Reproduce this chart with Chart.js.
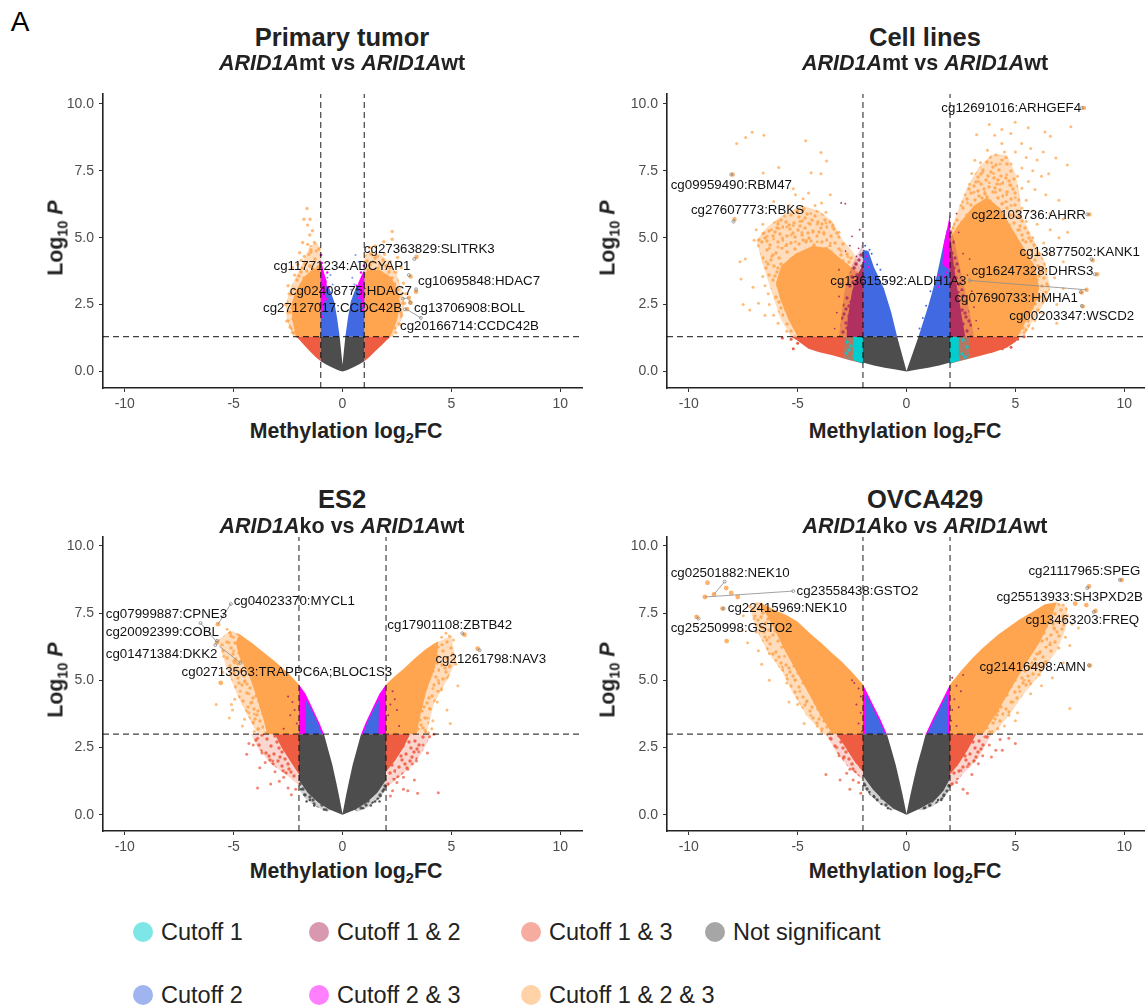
<!DOCTYPE html>
<html>
<head>
<meta charset="utf-8">
<title>Volcano plots</title>
<script src="https://cdn.jsdelivr.net/npm/chart.js@4"></script>
<style>
    html, body { margin: 0; padding: 0; background: #fff; }
    body { position: relative; width: 1145px; height: 1008px; overflow: hidden; font-family: "Liberation Sans", Arial, sans-serif; color: #222; }
    canvas { position: absolute; }
    .txt { position: absolute; white-space: nowrap; transform: translate(-50%, -50%); }
    .title { font-size: 25.5px; font-weight: bold; }
    .sub { font-size: 21.5px; font-weight: bold; }
    .axt { font-size: 21.3px; font-weight: bold; }
    .axt sub { font-size: 14.5px; line-height: 0; }
    .rot { transform: translate(-50%, -50%) rotate(-90deg); }
    .key { position: absolute; font-size: 23.5px; color: #222; white-space: nowrap; transform: translateY(-50%); }
    .dot { position: absolute; width: 20px; height: 20px; border-radius: 50%; transform: translate(-50%, -50%); }
</style>
</head>
<body>
<div class="txt" style="left:20px;top:22px;font-size:28px;color:#000">A</div>

<canvas id="tumor" style="left:0;top:71px"></canvas>
<canvas id="cells" style="left:564px;top:71px"></canvas>
<canvas id="es2" style="left:0;top:514px"></canvas>
<canvas id="ovca" style="left:564px;top:514px"></canvas>

<div class="txt title" style="left:342px;top:37px">Primary tumor</div>
<div class="txt sub" style="left:342px;top:63px"><i>ARID1A</i>mt vs <i>ARID1A</i>wt</div>
<div class="txt title" style="left:925px;top:37px">Cell lines</div>
<div class="txt sub" style="left:925px;top:63px"><i>ARID1A</i>mt vs <i>ARID1A</i>wt</div>
<div class="txt title" style="left:342px;top:499px">ES2</div>
<div class="txt sub" style="left:342px;top:526px"><i>ARID1A</i>ko vs <i>ARID1A</i>wt</div>
<div class="txt title" style="left:925px;top:499px">OVCA429</div>
<div class="txt sub" style="left:925px;top:526px"><i>ARID1A</i>ko vs <i>ARID1A</i>wt</div>

<div class="txt axt" style="left:346px;top:431px">Methylation log<sub>2</sub>FC</div>
<div class="txt axt" style="left:905px;top:431px">Methylation log<sub>2</sub>FC</div>
<div class="txt axt" style="left:346px;top:871px">Methylation log<sub>2</sub>FC</div>
<div class="txt axt" style="left:905px;top:871px">Methylation log<sub>2</sub>FC</div>
<div class="txt axt rot" style="left:56px;top:238px">Log<sub>10</sub> <i>P</i></div>
<div class="txt axt rot" style="left:608px;top:238px">Log<sub>10</sub> <i>P</i></div>
<div class="txt axt rot" style="left:56px;top:680px">Log<sub>10</sub> <i>P</i></div>
<div class="txt axt rot" style="left:608px;top:680px">Log<sub>10</sub> <i>P</i></div>

<div id="legend"></div>

<script>
const xTicks = [-10, -5, 0, 5, 10];
const yTicks = [0, 2.5, 5, 7.5, 10];

const legendNames = ['Cutoff 1', 'Cutoff 1 & 2', 'Cutoff 1 & 3', 'Not significant', 'Cutoff 2', 'Cutoff 2 & 3', 'Cutoff 1 & 2 & 3'];
const legendColors = ['#7de6e6', '#d898b0', '#f6ada0', '#a6a6a6', '#a0b4f0', '#ff80ff', '#ffd2a7'];

// Primary tumor
const tumorGrey = [[-1,0.38],[-0.75,0.26],[-0.5,0.16],[-0.2,0.04],[0,0],[0.2,0.04],[0.5,0.16],[0.75,0.26],[1,0.38],[1,1.3],[0.13,1.3],[0,0.25],[-0.13,1.3],[-1,1.3]];
const tumorBlue = [[-1,1.3],[-0.13,1.3],[-0.25,2],[-0.38,2.6],[-0.6,3.1],[-0.9,3.4],[-1,3.6]];
const tumorBlue2 = [[1,1.3],[0.13,1.3],[0.25,2],[0.38,2.6],[0.6,3.1],[0.9,3.4],[1,3.5]];
const tumorMagenta = [[-1,2.1],[-0.88,2.3],[-0.76,3],[-0.72,3.35],[-0.85,3.7],[-1,4.2]];
const tumorMagenta2 = [[1,2.2],[0.88,2.5],[0.76,3],[0.72,3.3],[0.85,3.55],[1,3.8]];
const tumorOrange = [[-1,1.3],[-2.14,1.3],[-2.3,1.9],[-2.35,2.5],[-2.15,3],[-1.8,3.5],[-1.4,3.8],[-1,3.9]];
const tumorOrange2 = [[1,1.3],[2.2,1.3],[2.5,1.9],[2.65,2.5],[2.55,3],[2.25,3.5],[1.7,3.8],[1.3,3.8],[1,3.7]];
const tumorHalo = [[-1,1.3],[-2.25,1.3],[-2.55,1.9],[-2.6,2.5],[-2.4,3.1],[-2.1,3.6],[-1.8,4.1],[-1.5,4.7],[-1.2,4.8],[-1,4.6]];
const tumorHalo2 = [[1,1.3],[2.3,1.3],[2.7,1.9],[2.85,2.5],[2.75,3],[2.5,3.6],[2.15,4.1],[1.7,4.4],[1.2,4.5],[1,4.3]];
const tumorRed = [[-1,0.38],[-1.25,0.55],[-1.5,0.75],[-1.8,1.02],[-2,1.2],[-2.15,1.3],[-1,1.3]];
const tumorRed2 = [[1,0.38],[1.25,0.55],[1.5,0.75],[1.8,0.98],[2,1.15],[2.2,1.3],[1,1.3]];
const tumorSpecks = [[-1.63,6.09],[-1.77,5.69],[-1.49,5.69],[-1.6,5.47],[-1.38,5.26],[-1.5,5.1],[-1.83,4.82],[-1.29,4.82],[-1.6,4.75],[-1.2,4.5],[-1.45,4.55],[-1.97,4.44],[-1.55,4.38],[-1.75,4.3],[-1.9,4.15],[-2.05,4],[-2.3,3.88],[-2.2,3.6],[-2.5,3.2],[-2.45,2.9],[-2.6,2.5],[-2.5,2.2],[-2.56,1.88],[-2.4,1.65],[-2.3,1.45],[2.28,5.23],[2.28,4.94],[1.9,4.85],[1.5,4.69],[1.25,4.62],[1.93,4.38],[1.6,4.3],[2.53,4.26],[2.2,4.1],[2.7,3.88],[2.45,3.7],[2.8,3.3],[2.9,2.9],[2.85,2.55],[2.72,2.1],[2.65,1.75],[2.45,1.45]];
const tumorBlueSpecks = [[0.6,4.35],[0.75,4.1],[-0.55,3.6],[-0.7,3.5],[-0.45,3.25],[0.45,3.5],[0.55,3.25],[0.4,3.05]];
const tumorMagentaSpecks = [[-0.98,4.35],[-0.95,4.05],[-0.7,3.7],[-0.65,3.15],[-0.75,2.7],[0.98,3.95],[0.85,3.7],[0.65,3.2],[0.72,2.75],[0.9,2.3],[-0.92,2.05]];
const tumorHits = [[3.4,4.28],[3.13,3.55],[3.38,2.98],[3.12,2.57],[2.97,2.33],[3.05,2.75]];

// Cell lines
const cellGrey = [[-2,0.33],[-1.5,0.22],[-1,0.14],[-0.5,0.07],[0,0],[0.5,0.07],[1,0.14],[1.5,0.22],[2,0.33],[2,1.3],[0.55,1.3],[0,0.02],[-0.43,1.3],[-2,1.3]];
const cellBlue = [[-2,1.3],[-0.43,1.3],[-0.7,2.2],[-1.04,3.1],[-1.5,3.9],[-1.75,4.5],[-2,4.55]];
const cellBlue2 = [[0.55,1.3],[2,1.3],[2,5.4],[1.85,5.3],[1.7,4.75],[1.4,3.6],[1.02,2.5]];
const cellMagenta = [[1.95,3.8],[1.65,4.0],[1.72,4.8],[1.87,5.35],[2,5.9],[2,4.8]];
const cellMaroon = [[-2,1.3],[-2.75,1.3],[-2.7,2],[-2.5,3],[-2.25,3.6],[-2,4]];
const cellMaroon2 = [[2,1.3],[2.7,1.3],[2.55,2],[2.35,3],[2.2,3.8],[2.05,4.8],[2,5.1]];
const cellMaroonHalo = [[-2,1.3],[-3.1,1.3],[-3,2],[-2.85,3],[-2.5,4],[-2.1,4.6],[-2,4.9]];
const cellMaroonHalo2 = [[2,1.3],[3.1,1.3],[2.95,2],[2.7,3],[2.45,3.9],[2.2,4.9],[2,5.4]];
const cellOrange = [[-2,1.3],[-5,1.3],[-5.4,1.9],[-5.8,2.7],[-6,3.3],[-5.75,3.95],[-5.1,4.4],[-4.3,4.7],[-3.6,4.6],[-3,4.2],[-2.4,3.8],[-2,3.6]];
const cellOrange2 = [[2,1.3],[5.1,1.3],[5.5,1.9],[5.9,2.5],[6.1,3.1],[5.9,3.9],[5.4,4.6],[4.8,5.4],[4.3,6.1],[3.7,6.5],[3.1,6.2],[2.4,5.5],[2,5]];
const cellHalo = [[-2,3.6],[-2.4,4.4],[-3,5],[-3.4,5.6],[-4,6],[-4.8,6.2],[-5.6,5.9],[-6.4,5.4],[-6.9,4.9],[-6.6,4],[-6.2,3],[-5.8,2],[-5.3,1.3],[-2,1.3]];
const cellHalo2 = [[2,1.3],[5.4,1.3],[5.8,1.9],[6.3,2.5],[6.6,3.1],[6.4,4],[5.8,5],[5.3,5.8],[5.2,6.6],[5,7.4],[4.6,8.1],[3.9,8.1],[3.3,7.6],[2.8,6.9],[2.4,6.1],[2,5.2]];
const cellRed = [[-2,0.3],[-2.6,0.42],[-3.4,0.6],[-4,0.72],[-4.5,0.85],[-5,1.15],[-5.3,1.3],[-2,1.3]];
const cellRed2 = [[2,0.3],[3,0.5],[4,0.72],[4.6,0.88],[5,1.1],[5.2,1.3],[2,1.3]];
const cellCyan = [[-2,0.3],[-2.45,0.42],[-2.45,1.3],[-2,1.3]];
const cellCyan2 = [[2,0.3],[2.4,0.4],[2.4,1.3],[2,1.3]];
const cellCyanHalo = [[-2,0.3],[-2.85,0.5],[-2.85,1.3],[-2,1.3]];
const cellCyanHalo2 = [[2,0.3],[2.9,0.48],[2.9,1.3],[2,1.3]];
const cellSpecks = [[-7.8,8.52],[-7.39,8.74],[-7.09,8.94],[-6.55,8.83],[-4.63,8.62],[-3.93,8.18],[-3.67,7.87],[-5.87,7.62],[-6.58,7.42],[-4.38,7.43],[-3.93,7.39],[-5.2,6.83],[-4.5,6.67],[-5.1,6.6],[-4.75,6.45],[-6.1,6.35],[-3.5,6.6],[-3.9,6.3],[-4.2,6.2],[-4.7,6.1],[-5.4,6.2],[-5,5.95],[-4.4,5.9],[-3.7,5.95],[-5.6,5.8],[-5.9,5.6],[-6.6,5.5],[-6.9,5.3],[-6.6,5.15],[-7,4.9],[-6.8,4.7],[-6.4,5.05],[-6.2,5.3],[-5.85,5.35],[-5.5,5.4],[-5.2,5.45],[-4.9,5.6],[-4.5,5.55],[-4.1,5.5],[-3.7,5.55],[-3.4,5.4],[-3.1,5.2],[-3.8,5.2],[-4.3,5.2],[-4.8,5.2],[-5.3,5.1],[-5.7,5],[-6.1,4.95],[-6.3,4.6],[-5.9,4.65],[-5.5,4.75],[-5.1,4.85],[-4.6,4.9],[-4.1,4.85],[-3.5,4.8],[-3,4.5],[-2.7,4.3],[-6.2,4.3],[-6.45,4.1],[-7.4,4.2],[-7.65,4.1],[-7.6,3.45],[-7.05,3.15],[-6.6,3.55],[-6.5,3.2],[-6.35,2.9],[-6.3,2.5],[-7.5,2.5],[-7.2,2.3],[-6.8,2.55],[-6.5,2.1],[-6.1,2.1],[-5.9,1.8],[-5.5,1.5],[3.22,8.85],[3.8,9.23],[4.38,9.04],[4.99,9.31],[5.59,9.11],[6.36,8.95],[6.61,8.79],[7.55,9.15],[4.05,8.83],[4.79,8.89],[5.29,8.52],[4.38,8.52],[5.7,8.33],[6.28,8.2],[3.72,8.27],[3.14,7.89],[6.86,7.98],[7.39,7.72],[6.53,7.39],[4.1,8.1],[4.5,8.2],[5,8.2],[5.5,8],[6,7.9],[3.4,7.8],[3.9,7.8],[4.3,7.75],[4.8,7.75],[5.3,7.6],[5.8,7.5],[6.2,7.3],[3,7.4],[3.5,7.45],[4,7.4],[4.6,7.35],[5.1,7.3],[5.6,7.1],[2.9,7],[3.3,7.1],[3.8,7.05],[4.3,7],[4.8,6.95],[5.3,6.85],[5.9,6.8],[2.7,6.6],[3.1,6.7],[3.6,6.7],[4.1,6.7],[4.6,6.6],[5,6.5],[5.5,6.4],[6.4,6.6],[7,6.4],[2.5,6.2],[2.8,6.3],[4.4,6.3],[4.8,6.2],[5.3,6.1],[5.8,6],[6.6,5.9],[7.2,5.7],[5,5.8],[5.5,5.6],[6,5.5],[6.6,5.3],[7.4,5.2],[7,5],[5.2,5.3],[5.8,5],[6.3,4.8],[6.1,4.4],[6.6,4.4],[7.2,4.1],[6.4,3.8],[6.8,3.5],[6.5,3.2],[7.2,3.1],[6.4,2.7],[6.9,2.5],[6.2,2.2],[6.9,1.8],[5.9,1.9],[5.8,1.6],[5.4,1.45]];
const cellRedSpecks = [[-5.2,0.85],[-5.3,1.2],[-5.7,1.25],[-5,1.05],[5.1,1.2],[4.8,0.9],[4.4,0.85],[5.4,1.3]];
const cellMaroonSpecks = [[-2.81,6.27],[-3,6.3],[-2.15,5.3],[-2.2,4.6],[-2.6,4.7],[-2.5,5.05],[-2.8,4.5],[-2.3,4.3],[-3.1,3.8],[-3.05,3.3],[-3.1,2.8],[-3.2,2.2],[3,3],[3.1,2.4],[3.2,1.9],[2.8,3.6],[2.6,4.4],[2.4,5.2],[2.3,5.9],[2.9,4.2],[-3.3,1.6],[3.3,1.6]];
const cellBlueSpecks = [[-1.7,4.55],[-1.9,4.7],[-1.6,4.4],[-1.85,4.3],[-1.35,4],[-1.2,3.8],[-0.95,3.35],[1.1,3],[0.9,2.45],[0.75,2],[0.6,1.6]];
const cellMagentaSpecks = [[-1.85,4.3],[-1.95,4.1],[-1.75,3.9],[1.5,3.6],[1.6,3.4],[1.45,3.15],[1.85,3.7],[1.75,3.55]];
const cellHits = [[8.15,9.85],[-7.98,7.36],[-7.9,5.69],[8.4,5.87],[8.55,4.15],[8.76,3.63],[8.27,3.05],[8.05,2.95],[8.1,2.43]];

// ES2
const esGrey = [[-2,1.3],[-1.6,0.82],[-1.1,0.45],[-0.6,0.2],[0,0],[0.6,0.2],[1.1,0.45],[1.6,0.82],[2,1.3],[2,3],[0.85,3],[0.65,2.4],[0.47,1.87],[0.3,1.25],[0.17,0.75],[0,0.03],[-0.17,0.75],[-0.3,1.25],[-0.47,1.87],[-0.65,2.4],[-0.85,3],[-2,3]];
const esGreyHalo = [[-2,0.95],[-1.7,0.6],[-1.2,0.3],[-0.7,0.12],[-0.3,0.3],[-2,1.5]];
const esGreyHalo2 = [[2,0.95],[1.7,0.6],[1.2,0.3],[0.7,0.12],[0.3,0.3],[2,1.5]];
const esMagenta = [[-2,3],[-0.85,3],[-1.05,3.4],[-1.4,4],[-1.7,4.5],[-2,4.85]];
const esMagenta2 = [[2,3],[0.85,3],[1.05,3.4],[1.4,4],[1.7,4.5],[2,4.85]];
const esBlue = [[-1.7,3],[-0.95,3],[-1.12,3.4],[-1.45,3.95],[-1.68,4.28]];
const esBlue2 = [[1.65,3],[0.95,3],[1.12,3.4],[1.45,3.95],[1.68,4.28]];
const esOrange = [[-2,3],[-3.45,3],[-3.65,3.6],[-3.95,4.4],[-4.3,5.2],[-4.75,5.9],[-4.9,6.4],[-4.74,6.72],[-4.14,6.38],[-3.6,6.03],[-3.12,5.72],[-2.5,5.27],[-2,4.85]];
const esOrange2 = [[2,3],[3.4,3],[3.6,3.8],[3.85,4.6],[4.2,5.4],[4.35,5.9],[4.4,6.45],[4.18,6.35],[3.8,6.15],[3.3,5.8],[2.8,5.42],[2.4,5.15],[2,4.85]];
const esHalo = [[-2,3],[-3.9,3],[-4.3,3.6],[-4.8,4.4],[-5.2,5.2],[-5.5,5.9],[-5.7,6.5],[-5.15,6.85],[-4.74,6.72],[-2,4.85]];
const esHalo2 = [[2,3],[3.85,3],[4.18,4.1],[4.86,5.1],[5.2,5.7],[5,6.66],[4.18,6.35],[2,4.85]];
const esRed = [[-2,1.5],[-2.4,2],[-2.8,2.5],[-3.1,3],[-2,3]];
const esRed2 = [[2,1.6],[2.4,2],[2.8,2.5],[3.1,3],[2,3]];
const esRedHalo = [[-2,1.1],[-2.6,1.5],[-3.3,1.9],[-3.9,2.5],[-4.2,3],[-2,3]];
const esRedHalo2 = [[2,1],[2.6,1.4],[3.3,1.9],[3.7,2.4],[4.1,3],[2,3]];
const esSpecks = [[-5.15,6.75],[-5.3,6.9],[-5,6.6],[-5.2,6.4],[-5,6.1],[-4.9,5.8],[-4.75,5.3],[-4.5,4.95],[-4.3,4.5],[-4.15,4.2],[-4.05,3.75],[-3.85,3.2],[-4.7,4.6],[-4.95,4.3],[-5.1,4.1],[-5.05,3.9],[-4.5,3.55],[-4.3,3.8],[-4.1,3.45],[-4.6,3.3],[-4.05,3.1],[-5.8,4.1],[-5.2,3.6],[-5.5,5.3],[-5.45,5.9],[4.55,6.6],[4.75,6.75],[4.9,6.65],[5.1,6.5],[4.4,5.9],[4.6,5.6],[4.9,5.5],[5.2,5.6],[4.8,5.1],[5.3,4.8],[4.4,5],[4.55,4.65],[4.15,4.7],[4.35,4.2],[4,3.95],[3.9,3.6],[4.15,3.5],[3.8,3.15],[4.1,3.2],[4.8,3.9],[4.95,3.4],[3.95,3.05]];
const esRedSpecks = [[-4.4,2.25],[-4.1,2.6],[-3.9,2.85],[-4.3,2.65],[-3.7,2.3],[-3.8,1.75],[-3.55,1.95],[-3.9,1],[-3.1,1.6],[-3.3,1.15],[-3.2,2],[-2.7,1.4],[-2.5,1],[-2.35,0.75],[-2.15,0.95],[-2.9,1.25],[3.2,1.9],[3.5,2.35],[3.7,2.6],[4,2.9],[4.2,3],[3.4,2],[3,1.7],[2.8,1.4],[2.5,1.2],[2.3,0.9],[3,0.9],[3.45,0.8],[4.4,0.82],[2.8,0.95],[2.2,0.7],[3.3,1.3],[3.9,2.3]];
const esGreySpecks = [[-1.9,0.95],[-1.75,0.75],[-1.5,0.55],[-1.3,0.35],[-0.85,0.2],[1.9,0.95],[1.75,0.7],[1.5,0.5],[1.3,0.35],[0.95,0.25],[-1.65,0.5],[1.7,0.5]];
const esMaroonSpecks = [[-2.5,4.4],[-2.3,4.2],[-2.4,3.7],[-2.2,3.9],[-2.1,3.4],[-2.7,3.2],[2.3,4.6],[2.4,4.3],[2.2,4.1],[2.1,3.7],[2.5,3.9],[2.6,3.3]];
const esHits = [[-5.72,7.09],[-5.76,6.41],[-5.59,4.91],[-4.95,5.7],[5.6,6.7],[6.21,6.18]];

// OVCA429
const ovGrey = [[-2,1.45],[-1.55,0.95],[-1.07,0.54],[-0.58,0.22],[0,0],[0.58,0.22],[1.3,0.54],[1.7,0.9],[2,1.35],[2,3],[0.88,3],[0.7,2.45],[0.5,1.87],[0.32,1.25],[0.18,0.75],[0,0.03],[-0.18,0.75],[-0.32,1.25],[-0.5,1.87],[-0.7,2.45],[-0.9,3],[-2,3]];
const ovGreyHalo = [[-2,1.05],[-1.7,0.75],[-1.2,0.4],[-0.7,0.16],[-0.3,0.3],[-2,1.5]];
const ovGreyHalo2 = [[2,0.95],[1.7,0.6],[1.2,0.32],[0.7,0.16],[0.3,0.3],[2,1.5]];
const ovMagenta = [[-2,3],[-0.9,3],[-1.2,3.55],[-1.6,4.2],[-2,4.85]];
const ovMagenta2 = [[2,3],[0.88,3],[1.2,3.55],[1.6,4.2],[2,4.85]];
const ovBlue = [[-1.88,3],[-0.97,3],[-1.25,3.5],[-1.62,4.1],[-1.9,4.55]];
const ovBlue2 = [[1.88,3],[0.95,3],[1.25,3.5],[1.62,4.1],[1.9,4.55]];
const ovOrange = [[-2,3],[-3.4,3],[-3.95,3.7],[-4.55,4.6],[-5.1,5.4],[-5.65,6.2],[-6,6.8],[-6.4,7.4],[-6.8,7.9],[-6.5,7.8],[-6,7.6],[-5.5,7.42],[-5,7.18],[-4.4,6.72],[-3.9,6.38],[-3.4,6],[-3,5.72],[-2.5,5.3],[-2,4.85]];
const ovOrange2 = [[2,3],[3.5,3],[4.15,3.8],[4.95,4.9],[5.55,5.7],[6.1,6.4],[6.6,7.2],[6.9,7.9],[6.36,7.83],[5.8,7.55],[5.2,7.27],[4.2,6.7],[3.5,6.2],[3,5.8],[2.5,5.35],[2,4.85]];
const ovHalo = [[-2,3],[-3.8,3],[-4.6,3.7],[-5.2,4.5],[-5.7,5.3],[-6.4,6.1],[-6.9,6.9],[-7.2,7.7],[-6.8,7.9],[-2,4.85]];
const ovHalo2 = [[2,3],[4,3],[4.7,3.7],[5.4,4.5],[6.2,5.3],[6.9,6.1],[7.3,6.9],[7.4,7.7],[6.9,7.9],[2,4.85]];
const ovRed = [[-2,1.6],[-2.4,2],[-2.8,2.5],[-3.2,3],[-2,3]];
const ovRed2 = [[2,1.5],[2.4,1.9],[2.8,2.4],[3.2,3],[2,3]];
const ovRedHalo = [[-2,1.3],[-2.7,1.8],[-3.2,2.3],[-3.7,3],[-2,3]];
const ovRedHalo2 = [[2,1],[2.7,1.6],[3.3,2.1],[3.9,3],[2,3]];
const ovSpecks = [[-7.2,7.75],[-7.5,7.4],[-7,7.3],[-6.9,7.85],[-6.6,6.95],[-6.9,6.8],[-6.3,6.6],[-7.3,6.4],[-6.8,6.1],[-6.3,6],[-6.65,5.6],[-6,5.75],[-5.7,5.5],[-5.5,5.2],[-6.3,5],[-5.5,4.9],[-5.1,5],[-4.9,4.6],[-5.4,4.2],[-5,4.1],[-4.6,4.2],[-4.4,3.7],[-4.7,3.4],[-4.1,3.3],[-3.9,3.1],[-3.6,3.5],[-5.6,5.9],[-7.55,6.85],[6.2,6.7],[6.8,6.9],[7.3,6.6],[7.5,6.3],[7,6.2],[7.6,7.1],[7.9,6.95],[7.4,7.4],[7.2,7.8],[6.6,6.4],[6.1,6],[6.4,5.7],[7.2,5.65],[5.8,5.5],[6.1,5.2],[6.7,5.1],[6.2,4.8],[5.4,5],[5.2,4.6],[5.7,4.5],[4.9,4.2],[5.1,3.8],[4.7,3.7],[4.5,3.3],[4.2,3.2],[7.5,3.95],[3.95,3.1],[5,3.5]];
const ovRedSpecks = [[-3.5,2.85],[-3.2,2.5],[-3.1,2.2],[-2.9,2.1],[-2.6,1.7],[-2.75,1.55],[-2.2,1.2],[-3.7,1.5],[-2.6,0.95],[-2.1,0.8],[-3.05,1.3],[-2.45,1.3],[3.6,2.9],[3.8,2.6],[4.3,2.8],[5,2.65],[4.7,2.85],[4.4,2.4],[3.9,2.15],[3.5,2.2],[3.1,2],[2.8,1.8],[2.5,1.65],[2.3,1.2],[2.6,0.95],[2.8,0.8],[2.1,1.15],[3.3,1.9],[4.1,2.4],[3,1.5]];
const ovGreySpecks = [[-1.9,1.1],[-1.7,0.85],[-1.35,0.55],[-1.15,0.4],[-0.85,0.25],[1.95,1.1],[1.7,0.7],[1.45,0.55],[1.05,0.35],[0.8,0.25],[-1.5,0.7],[1.6,0.55]];
const ovMaroonSpecks = [[-2.4,4.9],[-2.2,4.7],[-2.5,5],[-2.1,4.4],[-2.3,4.1],[-2.1,3.8],[-2.2,3.4],[-2.05,3.1],[2.1,5.1],[2.3,4.8],[2.5,4.6],[2.2,4.3],[2.1,3.9],[2.4,4],[2.05,3.5],[2.3,3.3],[2.6,5.2]];
const ovHits = [[-9.14,8.63],[-8.28,8.43],[-8.84,8.2],[-9.26,8.1],[-8.05,8.25],[-7.75,8.1],[-8.45,7.67],[-9.64,7.36],[-8.26,6.46],[9.88,8.73],[8.38,8.49],[8.26,7.8],[7.75,7.85],[8.68,7.58],[8.42,5.55]];

// gene labels: name, text anchor, connector start, connector end
const tumorNames = ['cg27363829:SLITRK3','cg11771234:ADCYAP1','cg10695848:HDAC7','cg02408775:HDAC7','cg27127017:CCDC42B','cg13706908:BOLL','cg20166714:CCDC42B'];
const tumorAnchors = [[0.98,4.58],[-3.17,3.91],[3.47,3.35],[-2.42,3.01],[-3.65,2.34],[3.28,2.34],[2.64,1.7]];
const tumorTips = [[3.3,4.2],[3.05,3.6],[3.38,3.07],[2.78,2.72],[2.87,2.32],[3.12,2.57],[3.6,2]];
const tumorEnds = [[3.4,4.28],[3.13,3.55],[3.38,2.98],[3.05,2.75],[2.97,2.33],[3.05,2.7],[2.95,2.32]];

const cellNames = ['cg12691016:ARHGEF4','cg09959490:RBM47','cg27607773:RBKS','cg22103736:AHRR','cg13877502:KANK1','cg16247328:DHRS3','cg13615592:ALDH1A3','cg07690733:HMHA1','cg00203347:WSCD2'];
const cellAnchors = [[1.6,9.83],[-10.83,6.96],[-9.9,6.03],[2.98,5.83],[5.19,4.45],[2.98,3.74],[-3.5,3.38],[2.2,2.73],[4.72,2.06]];
const cellTips = [[8.05,9.85],[-8.05,7.36],[-7.95,5.6],[8.3,5.87],[8.5,4.2],[8.65,3.63],[2.9,3.4],[8,2.97],[8.05,2.45]];
const cellEnds = [[8.15,9.85],[-7.98,7.36],[-7.9,5.69],[8.4,5.87],[8.55,4.15],[8.76,3.63],[8.27,3.05],[8.05,2.95],[8.1,2.43]];

const esNames = ['cg04023370:MYCL1','cg07999887:CPNE3','cg20092399:COBL','cg01471384:DKK2','cg02713563:TRAPPC6A;BLOC1S3','cg17901108:ZBTB42','cg21261798:NAV3'];
const esAnchors = [[-5,7.93],[-10.87,7.44],[-10.87,6.77],[-10.87,5.98],[-7.39,5.31],[2.06,7.03],[4.27,5.79]];
const esTips = [[-5.13,7.84],[-6.52,7.13],[-5.76,6.47],[-5.84,6.31],[-4.69,5.65],[5.5,6.75],[6.3,6.12]];
const esEnds = [[-5.72,7.09],[-5.76,6.41],[-5.76,6.41],[-5.8,6.35],[-5.67,6.28],[5.6,6.7],[6.21,6.18]];

const ovNames = ['cg02501882:NEK10','cg23558438:GSTO2','cg22415969:NEK10','cg25250998:GSTO2','cg21117965:SPEG','cg25513933:SH3PXD2B','cg13463203:FREQ','cg21416498:AMN'];
const ovAnchors = [[-10.83,8.97],[-5.05,8.3],[-8.21,7.66],[-10.83,6.95],[5.6,9.05],[4.13,8.07],[5.46,7.22],[3.35,5.5]];
const ovTips = [[-8.35,8.67],[-5.2,8.32],[-8.4,7.67],[-9.55,7.3],[9.8,8.74],[8.3,8.43],[8.6,7.54],[8.38,5.56]];
const ovEnds = [[-8.84,8.2],[-9.26,8.1],[-8.45,7.67],[-9.64,7.36],[9.88,8.73],[8.38,8.49],[8.68,7.58],[8.42,5.55]];

const orange = '#ffa54f', blue = '#4169e1', red = '#ee5c42', cyan = '#00cdcd', magenta = '#ff00ff', maroon = '#b03060', grey = '#4d4d4d';
const orangeSpeck = 'rgba(255,165,79,0.75)', orangeHit = 'rgba(255,165,79,0.85)', redSpeck = 'rgba(238,92,66,0.75)';
const toXY = pts => pts.map(p => ({ x: p[0], y: p[1] }));

// dot layout of the stippled fill, so the edge of a cloud reads as loose points
const stipple = [[3,5],[11,2],[19,7],[27,3],[36,6],[42,1],[7,12],[15,14],[23,11],[31,13],[39,11],[2,19],[10,20],[18,18],[26,21],[34,19],[41,17],[6,26],[14,27],[21,25],[29,28],[37,25],[43,24],[3,33],[11,34],[18,32],[25,35],[33,33],[40,31],[7,40],[15,41],[22,39],[30,42],[38,39],[43,37],[13,8],[33,8],[21,15],[5,22],[38,21],[16,23],[28,17],[9,30],[24,30],[35,29],[19,37],[2,43],[27,38]];

function stippleFill(r, g, b, base) {
    const tile = document.createElement('canvas');
    tile.width = 44;
    tile.height = 44;
    const c = tile.getContext('2d');
    c.fillStyle = `rgba(${r},${g},${b},${base})`;
    c.fillRect(0, 0, 44, 44);
    c.fillStyle = `rgba(${r},${g},${b},0.9)`;
    stipple.forEach(d => {
        c.beginPath();
        c.arc(d[0], d[1], 1.7, 0, Math.PI * 2);
        c.fill();
    });
    return c.createPattern(tile, 'repeat');
}

const orangeHalo = stippleFill(255, 165, 79, 0.38), redHalo = stippleFill(238, 92, 66, 0.25), cyanHalo = stippleFill(0, 205, 205, 0.25), maroonHalo = stippleFill(176, 48, 96, 0.25), greyHalo = stippleFill(77, 77, 77, 0.25);

// closed filled region
function region(pts, color) {
    return { data: toXY(pts), showLine: true, fill: 'shape', backgroundColor: color, borderColor: 'rgba(0,0,0,0)', borderWidth: 0, pointRadius: 0, tension: 0 };
}

function specks(pts, color, radius) {
    return { data: toXY(pts), showLine: false, backgroundColor: color, pointBorderWidth: 0, pointRadius: radius };
}

function dashed(pts) {
    return { data: toXY(pts), showLine: true, borderColor: 'rgba(0,0,0,0.75)', borderWidth: 1.2, borderDash: [6, 4], pointRadius: 0, fill: false };
}

// gene text and the little connectors
const geneLabels = {
    id: 'geneLabels',
    afterDatasetsDraw(chart, args, opts) {
        const { ctx, scales: { x, y } } = chart;
        ctx.save();
        ctx.font = '13.3px "Liberation Sans", Arial, sans-serif';
        ctx.textBaseline = 'middle';
        opts.names.forEach((name, i) => {
            const tx = x.getPixelForValue(opts.tips[i][0]), ty = y.getPixelForValue(opts.tips[i][1]);
            const ex = x.getPixelForValue(opts.ends[i][0]), ey = y.getPixelForValue(opts.ends[i][1]);
            ctx.strokeStyle = '#8a8a8a';
            ctx.lineWidth = 0.8;
            ctx.beginPath();
            ctx.moveTo(tx, ty);
            ctx.lineTo(ex, ey);
            ctx.stroke();
            ctx.beginPath();
            ctx.arc(tx, ty, 1.5, 0, Math.PI * 2);
            ctx.stroke();
            ctx.fillStyle = '#111';
            ctx.fillText(name, x.getPixelForValue(opts.anchors[i][0]), y.getPixelForValue(opts.anchors[i][1]));
        });
        ctx.restore();
    }
};

function makeChart(id, box, yRange, layers, lines, labels) {
    const canvas = document.getElementById(id);
    canvas.width = box.w;
    canvas.height = box.h;
    canvas.style.width = box.w + 'px';
    canvas.style.height = box.h + 'px';
    // the library draws the first dataset on top
    const datasets = layers.concat(lines).reverse();
    new Chart(canvas, {
        type: 'scatter',
        data: { datasets },
        plugins: [geneLabels],
        options: {
            responsive: false,
            animation: false,
            layout: { padding: { top: box.top, right: 0, left: 0, bottom: 0 } },
            plugins: { legend: { display: false }, tooltip: { enabled: false }, geneLabels: labels },
            scales: {
                x: {
                    type: 'linear', min: -11, max: 11,
                    afterBuildTicks: s => { s.ticks = xTicks.map(v => ({ value: v })); },
                    afterFit: s => { s.height = box.bottom; s.paddingRight = 0; s.paddingLeft = 0; },
                    grid: { drawOnChartArea: false, color: '#333', tickLength: 4, tickWidth: 1 },
                    border: { color: '#222', width: 1.6 },
                    ticks: { color: '#4d4d4d', font: { size: 14, family: '"Liberation Sans", Arial' }, padding: 4, maxRotation: 0, autoSkip: false, callback: v => String(v) }
                },
                y: {
                    type: 'linear', min: yRange[0], max: yRange[1],
                    afterBuildTicks: s => { s.ticks = yTicks.map(v => ({ value: v })); },
                    afterFit: s => { s.width = box.left; s.paddingTop = 0; s.paddingBottom = 0; },
                    grid: { drawOnChartArea: false, color: '#333', tickLength: 4, tickWidth: 1 },
                    border: { color: '#222', width: 1.6 },
                    ticks: { color: '#4d4d4d', font: { size: 14, family: '"Liberation Sans", Arial' }, padding: 5, autoSkip: false, callback: v => v.toFixed(1) }
                }
            }
        }
    });
}

const panelBox = { w: 586, h: 342, left: 103, top: 23, bottom: 25 };

makeChart('tumor', panelBox, [-0.62, 10.37], [
    region(tumorHalo, orangeHalo), region(tumorHalo2, orangeHalo),
    region(tumorOrange, orange), region(tumorOrange2, orange), specks(tumorSpecks, orangeSpeck, 1.7),
    region(tumorRed, red), region(tumorRed2, red),
    region(tumorBlue, blue), region(tumorBlue2, blue), specks(tumorBlueSpecks, 'rgba(65,105,225,0.7)', 1),
    region(tumorMagenta, magenta), region(tumorMagenta2, magenta), specks(tumorMagentaSpecks, magenta, 1.2),
    region(tumorGrey, grey), specks(tumorHits, orangeHit, 2.3)
], [dashed([[-1,-0.62],[-1,10.37]]), dashed([[1,-0.62],[1,10.37]]), dashed([[-11,1.3],[11,1.3]])],
    { names: tumorNames, anchors: tumorAnchors, tips: tumorTips, ends: tumorEnds });

makeChart('cells', panelBox, [-0.62, 10.37], [
    region(cellHalo, orangeHalo), region(cellHalo2, orangeHalo),
    region(cellOrange, orange), region(cellOrange2, orange), specks(cellSpecks, orangeSpeck, 1.5),
    region(cellRed, red), region(cellRed2, red), specks(cellRedSpecks, red, 1.5),
    region(cellCyanHalo, cyanHalo), region(cellCyanHalo2, cyanHalo),
    region(cellCyan, cyan), region(cellCyan2, cyan),
    region(cellMaroonHalo, maroonHalo), region(cellMaroonHalo2, maroonHalo),
    region(cellMaroon, maroon), region(cellMaroon2, maroon), specks(cellMaroonSpecks, maroon, 0.9),
    region(cellBlue, blue), region(cellBlue2, blue), specks(cellBlueSpecks, blue, 1),
    region(cellMagenta, magenta), specks(cellMagentaSpecks, magenta, 1.1),
    region(cellGrey, grey), specks(cellHits, orangeHit, 2.2)
], [dashed([[-2,-0.62],[-2,10.37]]), dashed([[2,-0.62],[2,10.37]]), dashed([[-11,1.3],[11,1.3]])],
    { names: cellNames, anchors: cellAnchors, tips: cellTips, ends: cellEnds });

makeChart('es2', panelBox, [-0.6, 10.33], [
    region(esHalo, orangeHalo), region(esHalo2, orangeHalo),
    region(esOrange, orange), region(esOrange2, orange), specks(esSpecks, orangeSpeck, 1.5),
    region(esRedHalo, redHalo), region(esRedHalo2, redHalo),
    region(esRed, red), region(esRed2, red), specks(esRedSpecks, redSpeck, 1.5),
    region(esMagenta, magenta), region(esMagenta2, magenta),
    region(esBlue, blue), region(esBlue2, blue),
    specks(esMaroonSpecks, maroon, 1),
    region(esGreyHalo, greyHalo), region(esGreyHalo2, greyHalo),
    region(esGrey, grey), specks(esGreySpecks, grey, 1.2), specks(esHits, orangeHit, 2.4)
], [dashed([[-2,-0.6],[-2,10.33]]), dashed([[2,-0.6],[2,10.33]]), dashed([[-11,3],[11,3]])],
    { names: esNames, anchors: esAnchors, tips: esTips, ends: esEnds });

makeChart('ovca', panelBox, [-0.6, 10.33], [
    region(ovHalo, orangeHalo), region(ovHalo2, orangeHalo),
    region(ovOrange, orange), region(ovOrange2, orange), specks(ovSpecks, orangeSpeck, 1.5),
    region(ovRedHalo, redHalo), region(ovRedHalo2, redHalo),
    region(ovRed, red), region(ovRed2, red), specks(ovRedSpecks, redSpeck, 1.5),
    region(ovMagenta, magenta), region(ovMagenta2, magenta),
    region(ovBlue, blue), region(ovBlue2, blue),
    specks(ovMaroonSpecks, maroon, 1),
    region(ovGreyHalo, greyHalo), region(ovGreyHalo2, greyHalo),
    region(ovGrey, grey), specks(ovGreySpecks, grey, 1.2), specks(ovHits, orangeHit, 2.4)
], [dashed([[-2,-0.6],[-2,10.33]]), dashed([[2,-0.6],[2,10.33]]), dashed([[-11,3],[11,3]])],
    { names: ovNames, anchors: ovAnchors, tips: ovTips, ends: ovEnds });

// legend under the panels
const keyColumns = [143, 319, 531, 715];
const keyRows = [932, 995];
const legend = document.getElementById('legend');
legendNames.forEach((name, i) => {
    const left = keyColumns[i % 4], top = keyRows[Math.floor(i / 4)];
    const dot = document.createElement('div');
    dot.className = 'dot';
    dot.style.cssText = `left:${left}px;top:${top}px;background:${legendColors[i]}`;
    const key = document.createElement('div');
    key.className = 'key';
    key.style.cssText = `left:${left + 18}px;top:${top}px`;
    key.textContent = name;
    legend.append(dot, key);
});
</script>
</body>
</html>
